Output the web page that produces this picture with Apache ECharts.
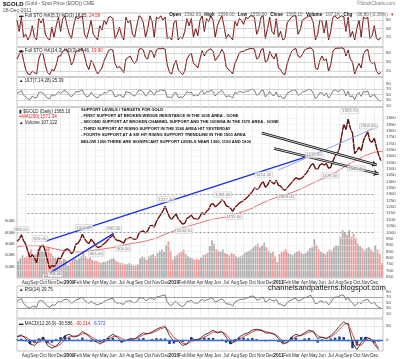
<!DOCTYPE html>
<html><head><meta charset="utf-8">
<script src="https://cdn.jsdelivr.net/npm/echarts@6/dist/echarts.min.js"></script>
<style>html,body{margin:0;padding:0;background:#fff}#c{width:400px;height:359px}</style>
</head><body><div id="c"></div>
<script>
// x values are months since Jan 2008; weekly samples start Jul 2008
const START = 6, STEP = 0.25;
const monthNames = ['Jan','Feb','Mar','Apr','May','Jun','Jul','Aug','Sep','Oct','Nov','Dec'];

const price = [930,945,980,935, 905,850,800,825, 800,760,860,890, 900,850,780,715, 740,730,750,800, 790,830,860,870,
 860,830,850,905, 915,940,985,950, 925,910,945,925, 900,880,885,895, 910,925,945,960, 980,950,935,935,
 925,915,950,950, 960,950,945,950, 995,1005,1010,995, 1010,1050,1055,1040, 1085,1115,1140,1170, 1205,1160,1120,1100,
 1125,1145,1105,1085, 1065,1070,1110,1120, 1135,1110,1105,1100, 1125,1155,1140,1165, 1180,1220,1225,1200, 1215,1230,1255,1245,
 1210,1200,1190,1165, 1195,1210,1230,1240, 1250,1265,1280,1300, 1320,1350,1340,1345, 1380,1400,1355,1370, 1410,1395,1380,1410,
 1370,1365,1340,1330, 1350,1370,1390,1410, 1430,1420,1420,1430, 1450,1470,1500,1530, 1540,1500,1495,1530, 1540,1530,1540,1505,
 1510,1560,1600,1620, 1660,1760,1850,1810, 1890,1820,1780,1620, 1640,1670,1640,1720, 1760,1790,1720,1710, 1740,1670,1610,1565];

const volumeK = [150,170,200,180, 190,230,250,200, 210,250,290,240, 230,260,270,220, 190,180,170,160, 150,170,160,110,
 140,160,170,160, 170,190,230,190, 170,180,160,150, 150,140,130,140, 140,150,160,170, 170,150,140,130,
 130,120,120,130, 120,110,110,120, 170,190,180,160, 190,200,210,190, 220,240,250,230, 290,320,240,160,
 190,200,220,230, 250,210,190,180, 170,160,170,160, 180,200,210,220, 280,330,300,250, 240,230,250,220,
 210,200,220,210, 190,180,190,200, 220,230,240,250, 270,290,300,270, 290,310,270,240, 220,230,190,140,
 210,230,240,250, 220,210,200,220, 230,240,220,210, 220,240,260,270, 340,290,250,230, 220,210,230,250,
 240,270,290,280, 360,420,400,380, 420,360,390,350, 300,280,260,240, 260,270,250,230, 290,250,210,130];

// monthly 200-day moving average, Jul 2008 .. Jan 2012
const ma200 = [885,895,895,890,875,860, 850,845,850,860,870,880,895,910,920,935,955,985,
 1010,1035,1055,1075,1095,1110,1120,1140,1165,1190,1225,1255, 1280,1300,1325,1355,1390,1420,1450,1490,1535,1570,1605,1630, 1640];

const sto5 = [80,40,90,20, 30,10,25,60, 20,10,85,70, 85,30,15,10, 55,20,60,90, 40,85,95,60,
 30,15,60,92, 85,90,95,30, 15,45,80,30, 20,10,60,45, 80,65,90,92, 85,15,30,55,
 25,10,90,70, 80,30,20,60, 95,90,70,20, 50,95,75,20, 90,85,95,80, 90,15,20,10,
 70,80,10,20, 15,40,85,60, 85,20,50,25, 80,95,40,85, 75,95,80,20, 60,80,95,60,
 15,30,20,10, 75,60,85,80, 65,90,85,95, 95,90,30,50, 90,95,15,50, 90,40,30,85,
 20,40,10,15, 70,80,90,95, 95,30,45,80, 85,90,95,92, 70,10,30,80, 75,35,80,10,
 40,90,95,85, 90,95,92,40, 90,20,40,10, 50,80,20,90, 85,90,15,25, 60,15,10,20];

const sto14 = [60,75,90,55, 25,10,8,20, 15,10,60,80, 75,40,15,8, 25,20,40,70, 70,85,92,90,
 70,40,55,85, 88,92,95,70, 40,25,55,45, 25,10,20,30, 55,70,88,92, 90,45,30,35,
 25,15,60,65, 70,55,45,55, 92,95,90,65, 60,88,85,65, 90,95,94,96, 92,40,15,10,
 40,55,25,15, 8,20,60,72, 80,45,40,30, 60,88,70,85, 90,94,85,55, 65,75,92,80,
 35,25,20,10, 45,60,80,85, 85,90,92,95, 95,93,60,65, 90,95,50,55, 85,70,60,80,
 30,25,12,8, 45,65,85,92, 95,70,65,75, 90,94,96,97, 88,30,25,55, 70,55,60,20,
 40,85,95,96, 96,97,95,70, 90,60,50,10, 30,45,30,75, 88,92,55,45, 50,20,10,15];

const ult = [55,60,65,48, 42,35,32,45, 40,38,58,60, 55,45,38,35, 50,45,52,60, 55,62,66,60,
 50,42,52,62, 60,64,68,50, 42,45,58,48, 42,38,48,50, 58,56,64,66, 60,42,45,50,
 45,40,62,58, 58,48,45,55, 68,66,60,45, 52,66,60,48, 64,62,68,66, 65,40,42,38,
 55,58,40,42, 40,48,62,56, 60,45,50,46, 58,66,52,62, 60,68,62,45, 55,60,66,55,
 42,46,44,38, 58,55,62,60, 58,64,62,68, 70,66,48,52, 64,68,42,50, 62,50,46,60,
 42,46,36,38, 55,60,64,68, 66,48,52,60, 62,66,70,68, 55,35,44,58, 56,46,56,38,
 48,64,68,62, 64,70,66,45, 62,42,46,32, 50,58,44,62, 60,64,42,46, 52,38,30,26];

const rsi = [55,60,65,48, 40,33,30,38, 36,34,55,58, 55,45,38,33, 42,40,45,55, 52,58,62,62,
 56,48,52,60, 62,66,70,58, 52,48,55,50, 45,42,46,48, 55,58,62,64, 66,52,48,50,
 46,44,55,56, 57,52,50,53, 66,68,66,58, 60,68,66,60, 70,72,74,76, 78,52,42,40,
 50,54,45,40, 36,42,54,56, 58,50,49,48, 56,62,56,60, 62,68,64,52, 56,60,64,58,
 46,45,44,38, 52,56,60,62, 62,66,68,72, 74,72,60,60, 68,70,52,56, 64,58,56,62,
 46,45,40,38, 50,56,60,64, 66,56,58,62, 68,70,74,76, 62,46,48,56, 56,50,54,42,
 50,64,70,70, 74,78,76,60, 70,55,50,38, 45,52,46,58, 60,62,50,48, 52,40,34,30];

// semi-monthly MACD values
const MSTEP = 0.5;
const macd = [12,18, 5,-15, -20,-5, 10,-20, -30,-22, -5,15, 20,10, 15,30, 20,5, -5,-15, -5,10, 20,10,
 -5,-3, 5,3, 15,25, 22,28, 38,45, 50,15, -5,-5, -20,-15, 5,0, 5,18, 25,35, 25,30,
 10,-15, -5,10, 20,25, 35,38, 35,25, 25,20, 5,-15, -10,10, 20,15, 25,35, 30,5, 10,5,
 15,30, 50,65, 55,-10, -35,-10, 10,5, -15,-35];
const macdSignal = [10,14, 10,0, -10,-10, 0,-8, -20,-25, -15,0, 12,14, 14,22, 22,12, 2,-8, -8,2, 12,14,
 5,-2, 2,3, 10,18, 22,25, 32,40, 45,30, 8,-2, -12,-15, -5,-2, 2,10, 18,28, 28,28,
 20,0, -8,2, 12,20, 28,35, 35,30, 26,22, 12,-5, -10,0, 12,15, 20,28, 30,15, 8,6,
 10,22, 38,55, 60,20, -15,-20, 0,5, -5,-30];
const macdHist = [2,4, -5,-15, -10,5, 10,-12, -10,3, 10,15, 8,-4, 1,8, -2,-7, -7,-7, 3,8, 8,-4,
 -10,-1, 3,0, 5,7, 0,3, 6,5, 5,-15, -13,-3, -8,0, 10,2, 3,8, 7,7, -3,2,
 -10,-15, 3,8, 8,5, 7,3, 0,-5, -1,-2, -7,-10, 0,10, 8,0, 5,7, 0,-10, 2,-1,
 5,8, 12,10, -5,-30, -20,10, 10,0, -10,-6];

// annotations of highs / lows [month, price, text, placement]
const notes = [[6.5,989,'989.00','top'],[8.6,920,'920.00','top'],[9.8,681,'681.00','bottom'],[10.4,701,'701.00','bottom'],
 [13.7,1007,'1007.00','top'],[15.1,865,'865.00','bottom'],[17.1,992,'992.00','top'],[18.2,905,'905.00','bottom'],
 [23.1,1227,'1227.50','top'],[25.2,1044,'1044.50','bottom'],[29.6,1265,'1265.30','top'],[30.9,1155,'1155.60','bottom'],
 [34.3,1424,'1424.30','top'],[36.9,1309,'1309.00','bottom'],[40.1,1575,'1575.80','top'],[41.9,1478,'1478.00','bottom'],
 [44.2,1923,'1923.70','top'],[44.9,1535,'1535.00','bottom'],[46.3,1804,'1804.40','top']];

// author's drawn lines, [[month, price],[month, price]]
const trendBlue = [[[9.3,931],[39,1590]], [[9.8,681],[50,1590]], [[9.8,690],[50,1505]], [[9.8,681],[17.1,992]]];
const trendThin = [[[36,1490],[47.5,1835]], [[39,1400],[50,1700]]];
const supportLevels = [1300, 1150, 1000];
const arrows = [[[34.1,1782],[47.3,1530]], [[35.5,1660],[47.5,1460]]];

const priceTicks = []; for (let v = 650; v <= 1900; v += 50) priceTicks.push(v);

const wk = a => a.map((v,i) => [START + i*STEP, v]);
const sm = a => a.map((v,i) => [START + i*MSTEP, v]);
const mo = a => a.map((v,i) => [START + i, v]);

const FONT = 'Liberation Sans';
const L = 17, R = 17;
const grids = [
  {top:13, height:34}, {top:47, height:30}, {top:77, height:30},
  {top:107, height:171}, {top:105.3, height:177.8}, {top:286, height:32}, {top:319, height:32}
].map((g,i) => Object.assign({left:L, right:R, show: i!==4, borderColor:'#9a9a9a', borderWidth:0.6}, g));

function mlabel(v){ if (v<=6 || v>=48) return ''; const m = ((v%12)+12)%12; if (m===0) return '{y|'+(2008+v/12)+'}'; return monthNames[m]; }
const xAxes = grids.map((g,i) => ({type:'value', gridIndex:i, min:6, max:48, interval:1,
  axisLine:{show:false}, axisTick:{show:false},
  splitLine:{show: i!==4, lineStyle:{color:'#e4e4e4', width:0.6}},
  axisLabel:{show: i===3 || i===6, formatter: mlabel, fontSize:4.6, color:'#333', fontFamily:FONT, margin:2,
    rich:{y:{fontSize:4.8, fontWeight:'bold', color:'#222', fontFamily:FONT}}}}));

function yAx(i, min, max, interval, shown, extra){
  return Object.assign({type:'value', gridIndex:i, min, max, interval, position:'right',
    axisLine:{show:false}, axisTick:{show:false}, splitLine:{show:false},
    axisLabel:{fontSize:4.4, color:'#444', fontFamily:FONT, margin:3,
      formatter: v => shown.indexOf(v) >= 0 ? String(v) : ''}}, extra||{});
}
const yAxes = [
  yAx(0,-15,105,5,[20,50,80]),
  yAx(1,0,100,10,[20,50,80]),
  yAx(2,5,115,5,[10,30,50,70,90]),
  Object.assign(yAx(3,0,1500,100,[]), {position:'left', axisLabel:{fontSize:4.4, color:'#444', fontFamily:FONT, margin:2,
      formatter: v => (v>=100 && v<=500) ? v+'K' : ''}}),
  yAx(4,600,2000,50,priceTicks),
  yAx(5,-5,110,5,[10,30,50,70,90]),
  yAx(6,-40,75,5,[0,50])
];

function hLines(vals, color){
  return {silent:true, symbol:['none','none'], label:{show:false}, animation:false,
    data: vals.map(v => ({yAxis:v, lineStyle:{color: color, type:'solid', width:0.6}}))};
}
function segLines(list, color, width){
  return list.map(s => [{coord:s[0], lineStyle:{color, width, type:'solid'}}, {coord:s[1]}]);
}

const thinLine = (data, xi, color, w, z) => ({type:'line', xAxisIndex:xi, yAxisIndex:xi, data, symbol:'none',
  lineStyle:{color, width:w}, z: z||2, animation:false});

const volData = volumeK.map((v,i) => ({value:[START + i*STEP + STEP/2, v],
  itemStyle:{color: (i>0 && price[i] < price[i-1]) ? 'rgba(230,120,120,0.75)' : 'rgba(150,150,150,0.75)'}}));

const series = [
  thinLine(wk(sto5), 0, '#e03030', 0.9),
  Object.assign(thinLine(wk(sto5), 0, '#111', 0.5, 3), {markLine: hLines([20,50,80], '#b8b8b8')}),
  thinLine(wk(sto14), 1, '#e03030', 0.9),
  Object.assign(thinLine(wk(sto14), 1, '#111', 0.5, 3), {markLine: hLines([20,50,80], '#b8b8b8')}),
  Object.assign(thinLine(wk(ult), 2, '#222', 0.6), {markLine: hLines([30,50,70], '#b8b8b8')}),
  {type:'bar', xAxisIndex:3, yAxisIndex:3, data: volData, barWidth:1.8, animation:false, z:1},
  thinLine(mo(ma200), 4, '#e05050', 0.8),
  thinLine(wk(price), 4, '#d03030', 1.4, 3),
  Object.assign(thinLine(wk(price), 4, '#111', 0.8, 4), {
    markLine: {silent:true, animation:false, label:{show:false}, symbol:['none','none'],
      data: [].concat(
        priceTicks.map(v => ({yAxis:v, lineStyle:{color:'#ececec', width:0.5, type:'solid'}})),
        supportLevels.map(v => [{coord:[7.2,v], lineStyle:{color:'#777', width:0.7, type:[2,2]}},{coord:[47.1,v]}]),
        segLines(trendBlue, '#1a2fe0', 1.4),
        segLines(trendThin, '#5a7fd8', 0.7)
      )}}),
  {type:'line', xAxisIndex:4, yAxisIndex:4, data:[], markLine:{silent:true, animation:false, label:{show:false},
      symbol:['none','arrow'], symbolSize:5,
      data: arrows.map(s => [{coord:s[0], lineStyle:{color:'#111', width:2.4, type:'solid'}}, {coord:s[1]}])}, z:5},
  {type:'line', xAxisIndex:4, yAxisIndex:4, data:[], markLine:{silent:true, animation:false, label:{show:false},
      symbol:['none','none'],
      data: arrows.map(s => [{coord:s[0], lineStyle:{color:'#fff', width:0.8, type:'solid'}}, {coord:s[1]}])}, z:6},
  {type:'scatter', xAxisIndex:4, yAxisIndex:4, symbolSize:0, animation:false, z:7,
    data: notes.map(n => ({value:[n[0], n[1]], label:{show:true, position:n[3], distance:1.5, formatter:n[2],
      fontSize:4.2, fontFamily:FONT, color:'#555', backgroundColor:'rgba(255,255,255,0.85)', borderColor:'#aaa', borderWidth:0.4, padding:[0.5,1]}}))},
  Object.assign(thinLine(wk(rsi), 5, '#222', 0.6), {markLine: {silent:true, animation:false, label:{show:false}, symbol:['none','none'],
      data:[{yAxis:70, lineStyle:{color:'#777', width:0.7, type:'solid'}}, {yAxis:50, lineStyle:{color:'#c8c8c8', width:0.6, type:'solid'}}, {yAxis:30, lineStyle:{color:'#777', width:0.7, type:'solid'}}]}}),
  {type:'bar', xAxisIndex:6, yAxisIndex:6, data: sm(macdHist), barWidth:2.5, itemStyle:{color:'#1c3c8c'}, animation:false, z:2,
    markLine: {silent:true, animation:false, label:{show:false}, symbol:['none','none'],
      data:[{yAxis:0, lineStyle:{color:'#3a6fd0', width:1.3, type:'solid'}}, {yAxis:50, lineStyle:{color:'#d0d0d0', width:0.5, type:'solid'}}]}},
  thinLine(sm(macdSignal), 6, '#e03030', 0.9, 3),
  thinLine(sm(macd), 6, '#111', 0.8, 4)
];

const txt = (x, y, text, rich) => ({type:'text', left:x, top:y, z:100, style:{text, rich, font:'4.6px '+FONT, fill:'#333'}});
const R1 = {b:{fontSize:6, fontWeight:'bold', fill:'#111', fontFamily:FONT}, g:{fontSize:5, fill:'#555', fontFamily:FONT},
  k:{fontSize:4.5, fill:'#222', fontFamily:FONT}, r:{fontSize:4.5, fill:'#e02020', fontFamily:FONT}, bl:{fontSize:4.5, fill:'#3050e0', fontFamily:FONT},
  hb:{fontSize:4.6, fontWeight:'bold', fill:'#111', fontFamily:FONT}, hg:{fontSize:4.6, fill:'#666', fontFamily:FONT}};

const notesText = ['SUPPORT LEVELS / TARGETS FOR GOLD',
 '- FIRST SUPPORT AT BROKEN WEDGE RESISTANCE IN THE 1635 AREA - GONE',
 '- SECOND SUPPORT AT BROKEN CHANNEL SUPPORT AND THE 100SMA IN THE 1575 AREA - GONE',
 '- THIRD SUPPORT AT RISING SUPPORT IN THE 1560 AREA HIT YESTERDAY',
 '- FOURTH SUPPORT AT A SIX HIT RISING SUPPORT TRENDLINE IN THE 1500 AREA',
 'BELOW 1500 THERE ARE SIGNIFICANT SUPPORT LEVELS NEAR 1300, 1150 AND 1000'];

const graphics = [
  txt(3, 1, '{b|$GOLD} {g|(Gold - Spot Price (EOD)) CME}', R1),
  txt(3, 8, '{g|28-Dec-2011}', R1),
  {type:'text', right:5, top:1, z:100, style:{text:'©StockCharts.com', font:'4.6px '+FONT, fill:'#777'}},
  {type:'text', right:6, top:8.5, z:100, style:{text:'{hb|Open} {hg|1592.00} {hb|High} {hg|1596.00} {hb|Low} {hg|1550.00} {hb|Close} {hg|1565.10} {hb|Volume} {hg|107.1K} {hb|Chg} {hg|-36.80 (-2.30%)} {r|▾}', rich:R1}},
  txt(19, 13.5, '{k|▬ Full STO %K(5,3) %D(3) 18.55,} {r|24.59}', R1),
  txt(19, 48, '{k|▬ Full STO %K(14,3) %D(3) 14.46,} {r|19.90}', R1),
  txt(19, 78.5, '{k|▲ ULT(7,14,28) 25.39}', R1),
  txt(19, 109, '{k|▮ $GOLD (Daily) 1565.10}', R1),
  txt(19, 114.5, '{r|━MA(200) 1571.34}', R1),
  txt(19, 120, '{k|▲ Volume 107,122}', R1),
  txt(19, 287, '{k|▲ RSI(14) 29.75}', R1),
  txt(19, 321, '{k|▬ MACD(12,26,9) -36.586,} {r|-30.214,} {bl|-6.372}', R1),
  {type:'text', left:268, top:284, z:100, style:{text:'channelsandpatterns.blogspot.com', font:'7.6px '+FONT, fill:'#111'}}
].concat(notesText.map((t,i) => ({type:'text', left:81, top:107.5 + i*6.4, z:100,
  style:{text:t, font:'bold 4.1px '+FONT, fill:'#111'}})));

const chart = echarts.init(document.getElementById('c'));
chart.setOption({animation:false, grid:grids, xAxis:xAxes, yAxis:yAxes, series, graphic:graphics});
</script></body></html>
